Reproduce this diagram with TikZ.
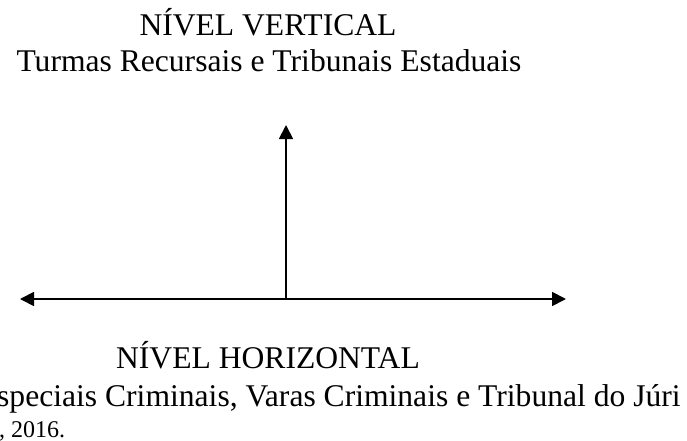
\documentclass[tikz,border=0pt]{standalone}
\usepackage{fontspec}
\setmainfont{Liberation Serif}
\usetikzlibrary{arrows.meta}
\begin{document}
\begin{tikzpicture}[x=1pt,y=-1pt,
  lbl/.style={inner sep=0pt,anchor=base,font=\fontsize{31.6}{36}\selectfont},
  src/.style={inner sep=0pt,anchor=base west,font=\fontsize{24}{28}\selectfont},
  tip/.style={Triangle[length=14pt,width=14pt]},
  axis/.style={line width=1.8pt,-{Triangle[length=14pt,width=14pt]}},
  axis2/.style={line width=1.8pt,{Triangle[length=14pt,width=14pt]}-{Triangle[length=14pt,width=14pt]}}]
\useasboundingbox (0,0) rectangle (687,441);
\node[lbl] (vt) at (268,36) {NÍVEL VERTICAL};
\node[lbl] (vs) at (269,72) {Turmas Recursais e Tribunais Estaduais};
\node[lbl] (ht) at (268,368) {NÍVEL HORIZONTAL};
\node[lbl,anchor=base west] (hs) at (-3,406) {speciais Criminais, Varas Criminais e Tribunal do Júri};
\node[src] (fonte) at (-1,437) {, 2016.};
\coordinate (L) at (20,299);
\coordinate (R) at (566,299);
\coordinate (O) at (286,299);
\coordinate (T) at (286,125);
\draw[axis2] (L) -- (R);
\draw[axis] (O) -- (T);
\end{tikzpicture}
\end{document}
